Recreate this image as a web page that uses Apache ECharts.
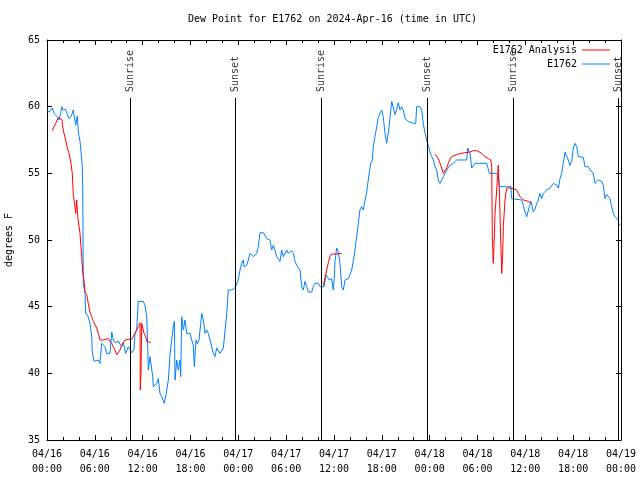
<!DOCTYPE html>
<html><head><meta charset="utf-8">
<script src="https://cdn.jsdelivr.net/npm/echarts@6/dist/echarts.min.js"></script>
<style>html,body{margin:0;padding:0;background:#fff}#c{width:640px;height:480px}</style>
</head><body><div id="c"></div>
<script>
// hours since 2024-04-16 00:00 UTC
const xTickLabels = ['04/16\n00:00','04/16\n06:00','04/16\n12:00','04/16\n18:00','04/17\n00:00','04/17\n06:00','04/17\n12:00','04/17\n18:00','04/18\n00:00','04/18\n06:00','04/18\n12:00','04/18\n18:00','04/19\n00:00'];
const yTicks = [35,40,45,50,55,60,65];
const sunTimes = [10.45, 23.62, 34.41, 47.71, 58.49, 71.71];
const sunNames = ['Sunrise','Sunset','Sunrise','Sunset','Sunrise','Sunset'];

const observed = [[0,59.75],[0.29,59.6],[0.45,59.7],[0.66,59.9],[0.88,59.5],[1.08,59.4],[1.28,59.25],[1.5,59.0],[1.72,59.5],[1.84,60.0],[2.01,59.75],[2.34,59.8],[2.55,59.4],[2.76,59.1],[3.05,59.3],[3.17,59.5],[3.30,59.75],[3.47,59.6],[3.6,58.6],[3.8,59.3],[3.93,58.1],[4.14,57.4],[4.3,56.4],[4.43,55.5],[4.48,54.0],[4.5,52.0],[4.52,50.0],[4.55,46.75],[4.77,46.0],[4.85,44.5],[5.18,44.25],[5.39,43.75],[5.61,42.75],[5.68,41.6],[5.90,40.9],[6.43,41.0],[6.65,40.75],[6.86,42.25],[7.06,42.4],[7.28,42.0],[7.49,41.5],[7.90,41.5],[8.12,43.1],[8.32,42.5],[8.53,42.3],[8.94,42.4],[9.16,42.2],[9.37,42.0],[9.57,42.3],[9.87,41.5],[10.20,42.0],[10.41,41.8],[10.62,41.55],[10.91,41.75],[11.04,43.0],[11.25,43.3],[11.45,45.4],[11.67,45.5],[12.08,45.4],[12.29,45.1],[12.51,44.25],[12.63,42.0],[12.71,40.25],[12.92,41.25],[13.13,41.1],[13.26,39.75],[13.33,39.0],[13.55,38.9],[13.76,39.25],[13.96,39.6],[14.17,38.5],[14.39,38.25],[14.55,38.4],[14.71,37.75],[14.93,38.4],[15.22,39.5],[15.43,41.4],[15.64,42.5],[15.84,43.5],[15.97,43.9],[16.06,39.5],[16.27,41.0],[16.47,40.25],[16.68,41.0],[16.77,39.75],[16.90,44.25],[17.10,43.25],[17.31,44.0],[17.52,43.0],[17.72,42.9],[17.94,43.0],[18.15,42.5],[18.35,42.1],[18.48,40.5],[18.69,42.5],[18.86,42.2],[19.07,42.5],[19.28,43.75],[19.41,44.5],[19.61,44.0],[19.82,43.0],[20.03,43.25],[20.23,43.0],[20.45,42.5],[20.66,42.0],[20.86,41.5],[21.07,41.25],[21.29,41.9],[21.49,41.9],[21.70,41.5],[21.91,41.5],[22.12,41.9],[22.33,42.0],[22.54,44.5],[22.74,46.25],[23.17,46.25],[23.37,46.1],[23.58,46.4],[23.80,46.5],[23.99,47.0],[24.21,47.75],[24.42,48.25],[24.62,48.5],[24.71,48.0],[25.05,48.1],[25.25,48.5],[25.46,49.0],[25.67,48.9],[25.88,48.75],[26.09,48.7],[26.30,49.0],[26.51,49.5],[26.72,50.55],[27.13,50.55],[27.34,50.4],[27.56,50.1],[27.76,50.2],[27.97,50.0],[28.18,49.25],[28.39,49.6],[28.60,49.2],[28.81,48.75],[29.01,48.6],[29.23,48.4],[29.44,49.25],[29.64,48.75],[29.85,48.6],[30.07,49.25],[30.27,49.0],[30.48,49.1],[30.69,49.2],[30.90,49.0],[31.11,48.4],[31.32,48.1],[31.52,48.1],[31.74,47.75],[31.95,46.5],[32.15,46.25],[32.36,46.9],[32.58,46.5],[32.78,46.1],[32.99,46.0],[33.20,46.1],[33.40,46.5],[33.62,46.75],[34.03,46.75],[34.24,46.5],[34.46,46.4],[34.75,46.5],[35.0,47.4],[35.2,47.2],[35.4,47.0],[35.7,47.1],[35.91,46.25],[36.04,47.2],[36.13,48.4],[36.34,49.4],[36.55,49.1],[36.75,48.25],[36.97,46.5],[37.17,46.25],[37.38,47.0],[37.8,47.1],[38.01,47.1],[38.22,47.75],[38.42,48.4],[38.63,49.25],[38.84,50.25],[39.05,51.25],[39.25,52.25],[39.46,52.5],[39.67,52.25],[39.89,53.0],[40.1,53.6],[40.3,54.5],[40.60,55.75],[40.80,56.0],[40.93,57.0],[41.14,57.75],[41.36,58.5],[41.56,59.2],[41.77,59.5],[41.98,59.75],[42.18,59.2],[42.40,58.0],[42.61,57.25],[42.81,58.0],[43.03,59.2],[43.24,60.4],[43.44,60.3],[43.65,59.4],[43.86,59.8],[44.07,60.3],[44.28,59.75],[44.49,60.0],[44.69,59.75],[44.91,59.1],[45.12,59.2],[45.32,58.9],[45.53,58.75],[45.95,58.75],[46.25,58.75],[46.37,60.0],[46.79,60.0],[47.00,59.75],[47.20,58.75],[47.42,58.0],[47.63,57.5],[47.83,57.1],[48.04,56.6],[48.26,56.25],[48.46,56.0],[48.67,55.5],[48.88,55.25],[49.08,54.5],[49.30,54.25],[49.51,54.5],[49.71,54.75],[49.92,54.9],[50.14,55.25],[50.34,55.4],[50.55,55.6],[50.96,55.75],[51.38,56.0],[52.02,56.0],[52.64,56.0],[52.77,56.9],[53.06,56.5],[53.27,55.4],[53.47,55.4],[53.69,55.75],[54.10,55.75],[55.16,55.75],[55.36,55.7],[55.5,55.0],[56.41,55.0],[56.61,54.75],[56.74,54.0],[57.66,54.0],[58.2,54.0],[58.25,53.1],[59.55,53.0],[59.75,52.6],[59.96,52.1],[60.17,51.75],[60.3,51.9],[60.5,52.5],[60.71,52.9],[60.85,52.75],[61.0,52.1],[61.21,52.3],[61.43,52.75],[61.63,53.0],[61.84,53.5],[62.05,53.1],[62.26,53.5],[62.47,53.4],[62.68,53.75],[62.88,53.9],[63.10,53.9],[63.51,54.25],[63.72,54.1],[63.94,54.1],[64.14,53.9],[64.35,54.6],[64.56,55.0],[64.76,55.75],[64.98,56.6],[65.19,56.25],[65.39,56.0],[65.60,55.6],[65.82,55.9],[66.02,56.9],[66.23,57.25],[66.45,57.0],[66.65,56.25],[66.86,56.2],[67.27,56.2],[67.49,55.5],[67.91,55.5],[68.12,55.25],[68.53,55.0],[68.74,54.25],[68.95,54.2],[69.16,54.5],[69.37,54.5],[69.58,54.4],[69.78,54.1],[69.99,53.1],[70.21,53.4],[70.41,53.4],[70.62,53.1],[70.83,52.5],[71.03,52.0],[71.25,51.75],[71.46,51.6],[71.66,51.5],[71.75,51.1],[71.9,51.2]];

const analysis = [[0.66,58.2],[0.88,58.5],[1.08,58.75],[1.28,59.0],[1.5,59.2],[1.72,59.25],[1.9,59.0],[1.93,58.6],[2.13,58.0],[2.34,57.5],[2.55,56.9],[2.76,56.5],[2.97,55.9],[3.17,55.0],[3.30,53.4],[3.51,52.5],[3.60,52.0],[3.73,53.0],[3.85,51.75],[4.14,50.5],[4.35,48.75],[4.48,47.6],[4.64,47.0],[4.77,46.1],[4.98,45.9],[5.18,45.25],[5.39,44.6],[5.61,44.25],[5.81,43.9],[6.02,43.75],[6.23,43.4],[6.43,43.0],[6.65,42.5],[7.06,42.5],[7.28,42.55],[7.69,42.6],[7.90,42.6],[8.12,42.25],[8.32,42.0],[8.53,41.75],[8.74,41.4],[9.16,41.75],[9.37,42.1],[9.78,42.5],[10.20,42.55],[10.62,42.55],[10.83,42.6],[11.04,43.0],[11.25,43.25],[11.45,43.5],[11.67,43.8],[11.70,38.75],[11.79,40.0],[11.88,43.75],[12.0,43.6],[12.17,43.0],[12.38,42.75],[12.51,42.4],[12.71,42.3],[13.01,42.3],
[13.02,null],
[34.66,46.6],[34.91,47.25],[35.08,47.75],[35.33,48.4],[35.51,48.75],[35.71,48.95],[36.34,48.95],[36.97,49.0],
[37.0,null],
[48.67,56.45],[48.88,56.45],[49.08,56.1],[49.30,55.75],[49.51,55.4],[49.71,55.0],[49.92,55.1],[50.14,55.4],[50.34,55.75],[50.55,56.05],[50.76,56.25],[51.17,56.35],[51.58,56.45],[51.80,56.5],[52.43,56.55],[53.06,56.6],[53.47,56.7],[53.69,56.75],[53.90,56.7],[54.10,56.55],[54.53,56.5],[54.94,56.25],[55.36,56.1],[55.57,56.0],[55.67,56.0],[55.78,55.5],[55.86,50.25],[55.98,48.25],[56.07,49.5],[56.20,52.0],[56.41,53.75],[56.54,55.0],[56.61,55.6],[56.74,53.75],[56.91,50.0],[57.04,47.5],[57.16,49.0],[57.24,51.0],[57.45,53.0],[57.66,53.9],[58.07,53.9],[58.49,53.85],[58.92,53.75],[59.12,53.5],[59.33,53.25],[59.75,53.0],[60.37,52.9],[60.8,52.75]];

const FONT = 'DejaVu Sans Mono';
const txt = {fontFamily: FONT, fontSize: 10, color: '#000'};

const chart = echarts.init(document.getElementById('c'), null, {renderer: 'canvas'});
const xBase = {
  type: 'value', min: 0, max: 72, interval: 6,
  axisLine: {show: true, onZero: false, lineStyle: {color: '#000', width: 1}},
  axisTick: {show: true, inside: true, length: 5, lineStyle: {color: '#000'}},
  minorTick: {show: true, splitNumber: 3, length: 3, lineStyle: {color: '#000'}},
  splitLine: {show: false}, minorSplitLine: {show: false}
};
const yBase = {
  type: 'value', min: 35, max: 65, interval: 5,
  axisLine: {show: true, onZero: false, lineStyle: {color: '#000', width: 1}},
  axisTick: {show: true, inside: true, length: 5, lineStyle: {color: '#000'}},
  splitLine: {show: false}
};
chart.setOption({
  animation: false,
  backgroundColor: '#fff',
  title: {text: 'Dew Point for E1762 on 2024-Apr-16 (time in UTC)', left: 188, top: 14, padding: 0,
    textStyle: Object.assign({}, txt, {fontWeight: 'normal'})},
  grid: {left: 47, right: 19, top: 40, bottom: 40, containLabel: false, outerBoundsMode: 'none'},
  legend: [
    {data: ['E1762 Analysis'], right: 30, top: 45, padding: 0, icon: 'rect', itemWidth: 28, itemHeight: 1, align: 'right', textStyle: txt},
    {data: ['E1762'], right: 30, top: 59, padding: 0, icon: 'rect', itemWidth: 28, itemHeight: 1, align: 'right', textStyle: txt}
  ],
  xAxis: [
    Object.assign({}, xBase, {position: 'bottom',
      axisLabel: Object.assign({}, txt, {margin: 7, lineHeight: 15,
        formatter: v => xTickLabels[Math.round(v / 6)]})}),
    Object.assign({}, xBase, {position: 'top', axisLabel: {show: false}})
  ],
  yAxis: [
    Object.assign({}, yBase, {position: 'left', name: 'degrees F', nameLocation: 'middle', nameGap: 33,
      nameTextStyle: txt,
      axisLabel: Object.assign({}, txt, {margin: 7, formatter: v => yTicks.includes(v) ? String(v) : ''})}),
    Object.assign({}, yBase, {position: 'right', axisLabel: {show: false}})
  ],
  series: [
    {name: 'E1762 Analysis', type: 'line', data: analysis, showSymbol: false, connectNulls: false,
      itemStyle: {color: '#ff0000'}, lineStyle: {color: '#ff0000', width: 1}, z: 3},
    {name: 'E1762', type: 'line', data: observed, showSymbol: false,
      itemStyle: {color: '#0080ff'}, lineStyle: {color: '#0080ff', width: 1}, z: 2,
      markLine: {silent: true, symbol: ['none', 'none'], label: {show: false},
        lineStyle: {color: '#000', width: 1, type: 'solid'},
        data: sunTimes.map(t => [{coord: [t, 60.65]}, {coord: [t, 35]}])}},
    {name: 'sun', type: 'scatter', symbolSize: 0, silent: true,
      data: sunTimes.map((t, i) => ({value: [t, 61.1], name: sunNames[i]})),
      label: Object.assign({}, txt, {show: true, formatter: '{b}', position: 'inside', rotate: 90, align: 'left', verticalAlign: 'middle'})}
  ]
});
</script></body></html>
